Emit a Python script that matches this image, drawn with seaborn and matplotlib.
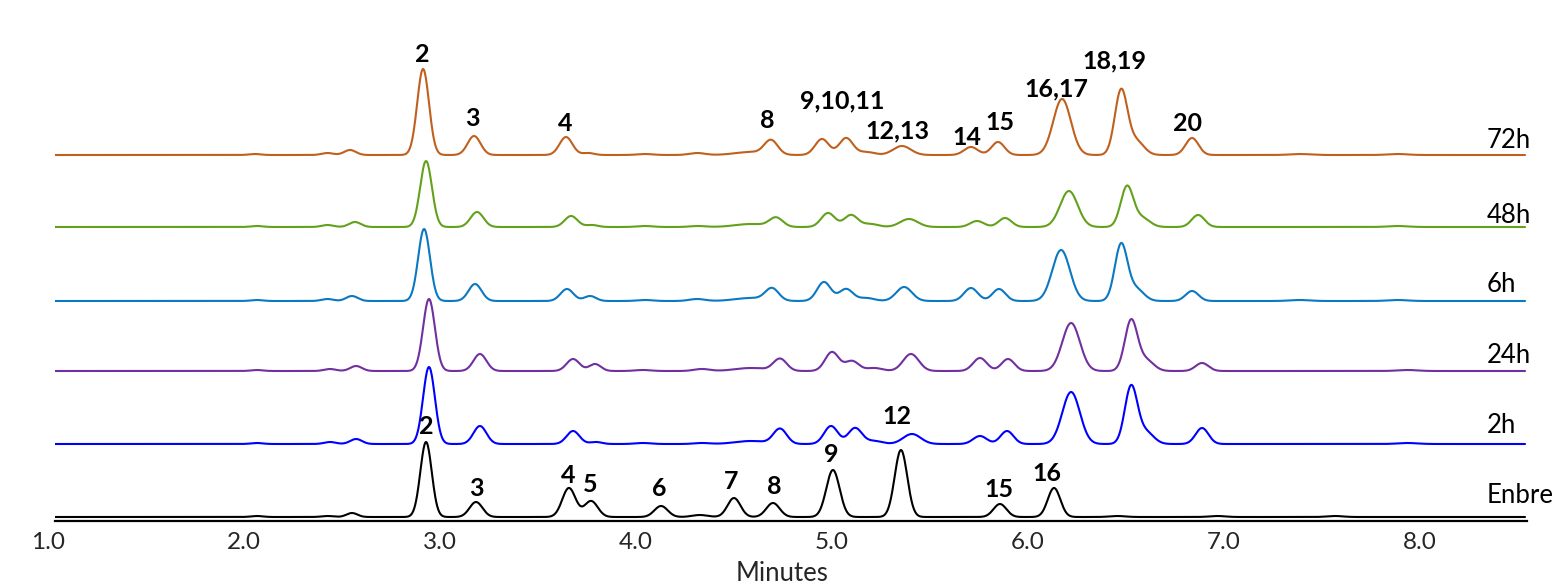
import numpy as np
import pandas as pd
import matplotlib
matplotlib.use("Agg")
import matplotlib.pyplot as plt
import matplotlib.transforms as mtransforms
import seaborn as sns

# ---------------- data ----------------
samples = ["72h", "48h", "6h", "24h", "2h", "Enbre"]
colors = ["#C0601E", "#63A11C", "#0B78C2", "#7030A0", "#0000FF", "#000000"]

# peak tables: retention time (min), apex height (signal units), width (sigma, min)
rt_72h = [2.02, 2.39, 2.505, 2.878, 3.138, 3.607, 3.72, 4.01, 4.276, 4.55, 4.653, 4.913, 5.036, 5.14, 5.321, 5.673, 5.811, 6.138, 6.439, 6.515, 6.801, 7.35, 7.85]
h_72h = [1, 2, 5, 86, 19, 18, 2, 1, 2, 3, 14, 16, 17, 3, 9, 8, 13, 56, 64, 14, 17, 1, 1]
w_72h = [0.03, 0.03, 0.03, 0.030, 0.033, 0.033, 0.03, 0.04, 0.04, 0.08, 0.034, 0.035, 0.035, 0.04, 0.045, 0.035, 0.033, 0.045, 0.032, 0.04, 0.033, 0.05, 0.05]

rt_48h = [2.03, 2.39, 2.53, 2.893, 3.153, 3.633, 3.74, 4.01, 4.28, 4.55, 4.679, 4.944, 5.061, 5.16, 5.357, 5.704, 5.847, 6.173, 6.469, 6.545, 6.832, 7.85]
h_48h = [1, 2, 5, 66, 15, 11, 2, 1, 1, 3, 9, 14, 12, 3, 8, 6, 9, 36, 40, 9, 12, 1]
w_48h = [0.03, 0.03, 0.03, 0.030, 0.033, 0.033, 0.03, 0.04, 0.04, 0.08, 0.034, 0.035, 0.035, 0.04, 0.045, 0.035, 0.033, 0.045, 0.032, 0.04, 0.033, 0.05]

rt_6h = [2.03, 2.39, 2.515, 2.883, 3.143, 3.612, 3.73, 4.01, 4.276, 4.55, 4.658, 4.923, 5.036, 5.14, 5.332, 5.673, 5.816, 6.133, 6.439, 6.515, 6.801, 7.35, 7.85]
h_6h = [1, 2, 5, 72, 17, 12, 5, 1, 2, 3, 12, 19, 12, 3, 14, 13, 12, 51, 56, 12, 10, 1, 1]
w_6h = [0.03, 0.03, 0.03, 0.030, 0.033, 0.033, 0.03, 0.04, 0.04, 0.08, 0.034, 0.035, 0.035, 0.04, 0.04, 0.035, 0.033, 0.045, 0.032, 0.04, 0.033, 0.05, 0.05]

rt_24h = [2.03, 2.403, 2.536, 2.908, 3.168, 3.643, 3.755, 4.0, 4.3, 4.55, 4.699, 4.964, 5.066, 5.18, 5.367, 5.719, 5.862, 6.184, 6.49, 6.565, 6.852, 7.9]
h_24h = [1, 2, 5, 72, 17, 12, 7, 1, 2, 3, 12, 19, 10, 3, 17, 13, 12, 48, 50, 11, 8, 1]
w_24h = [0.03, 0.03, 0.03, 0.030, 0.033, 0.033, 0.03, 0.04, 0.04, 0.08, 0.034, 0.035, 0.035, 0.04, 0.04, 0.035, 0.033, 0.045, 0.032, 0.04, 0.033, 0.05]

rt_2h = [2.03, 2.403, 2.536, 2.908, 3.168, 3.643, 3.76, 4.0, 4.3, 4.55, 4.699, 4.959, 5.082, 5.18, 5.372, 5.719, 5.857, 6.184, 6.49, 6.565, 6.852, 7.9]
h_2h = [1, 2, 5, 77, 18, 13, 2, 1, 1, 3, 15, 18, 16, 3, 10, 8, 13, 52, 57, 12, 16, 1]
w_2h = [0.03, 0.03, 0.03, 0.030, 0.033, 0.033, 0.03, 0.04, 0.04, 0.08, 0.034, 0.035, 0.035, 0.04, 0.045, 0.035, 0.033, 0.045, 0.032, 0.04, 0.033, 0.05]

rt_enbre = [2.03, 2.39, 2.515, 2.893, 3.148, 3.622, 3.735, 4.092, 4.29, 4.464, 4.663, 4.969, 5.316, 5.821, 6.097, 6.42, 6.93, 7.53]
h_enbre = [1, 1, 4, 75, 15, 29, 16, 11, 2, 19, 14, 47, 67, 13, 29, 1, 1, 1]
w_enbre = [0.03, 0.03, 0.028, 0.029, 0.033, 0.034, 0.034, 0.034, 0.04, 0.033, 0.034, 0.034, 0.032, 0.033, 0.032, 0.04, 0.04, 0.04]

peak_tables = {
    "72h": (rt_72h, h_72h, w_72h),
    "48h": (rt_48h, h_48h, w_48h),
    "6h": (rt_6h, h_6h, w_6h),
    "24h": (rt_24h, h_24h, w_24h),
    "2h": (rt_2h, h_2h, w_2h),
    "Enbre": (rt_enbre, h_enbre, w_enbre),
}

# peak annotations: (label, minutes, signal level of the text baseline)
ann_text = ["2", "3", "4", "8", "9,10,11", "12,13", "14", "15", "16,17", "18,19", "20",
            "2", "3", "4", "5", "6", "7", "8", "9", "12", "15", "16"]
ann_x = [2.872, 3.128, 3.602, 4.633, 5.015, 5.296, 5.653, 5.821, 6.107, 6.403, 6.776,
         2.893, 3.148, 3.617, 3.73, 4.082, 4.449, 4.668, 4.959, 5.296, 5.816, 6.061]
ann_y = [455, 391, 386, 389, 409, 379, 372, 387, 421, 449, 386,
         83, 21, 34, 25, 21, 28, 23, 55, 93, 20, 36]

x_ticks = [1.0, 2.0, 3.0, 4.0, 5.0, 6.0, 7.0, 8.0]
x_label = "Minutes"

# ---------------- layout ----------------
offsets = {"72h": 362, "48h": 290, "6h": 216, "24h": 146, "2h": 73, "Enbre": 0}
label_lift = {"72h": 7, "48h": 4, "6h": 9, "24h": 8, "2h": 11, "Enbre": 14}

grid = np.linspace(1.0, 8.5, 3001)
frames = []
for s in samples:
    rts, hs, ws = peak_tables[s]
    sig = np.zeros_like(grid)
    for r, h, w in zip(rts, hs, ws):
        sig += h * np.exp(-0.5 * ((grid - r) / w) ** 2)
    frames.append(pd.DataFrame({"minutes": grid, "signal": sig + offsets[s], "sample": s}))
df = pd.concat(frames, ignore_index=True)

sns.set_style("white")
plt.rcParams["font.family"] = ["Lato", "DejaVu Sans"]

W, H = 1555, 585
fig = plt.figure(figsize=(W / 100, H / 100), dpi=100)
ax = fig.add_axes([55 / W, (H - 521) / H, (1527 - 55) / W, 521 / H])

sns.lineplot(data=df, x="minutes", y="signal", hue="sample", hue_order=samples,
             palette=dict(zip(samples, colors)), estimator=None, sort=False,
             legend=False, linewidth=1.5, ax=ax)

ax.set_xlim(1.0, 8.51)
ax.set_ylim(-4, 517)

for s in samples:
    ax.text(8.306, offsets[s] + label_lift[s], s, fontsize=18.5, ha="left",
            va="baseline", color="black", clip_on=False)

for t, x, y in zip(ann_text, ann_x, ann_y):
    ax.text(x, y, t, fontsize=18, fontweight="bold", ha="center", va="baseline",
            color="black")

for side in ["left", "right", "top"]:
    ax.spines[side].set_visible(False)
ax.spines["bottom"].set_linewidth(1.6)
ax.spines["bottom"].set_color("black")
ax.set_yticks([])
ax.set_ylabel("")

ax.set_xticks(x_ticks)
ax.set_xticklabels([f"{v:.1f}" for v in x_ticks], fontsize=17.5)
ax.set_xticks(np.arange(1.5, 8.51, 1.0), minor=True)
ax.tick_params(axis="x", which="major", length=0, pad=8)
ax.tick_params(axis="x", which="minor", length=3, width=1, direction="out", color="black")
shift = mtransforms.ScaledTranslation(-0.07, 0, fig.dpi_scale_trans)
for lab in ax.get_xticklabels():
    lab.set_transform(lab.get_transform() + shift)

ax.set_xlabel(x_label, fontsize=18.5)
ax.xaxis.set_label_coords(0.494, -0.076)

fig.savefig("out.png", dpi=100)
